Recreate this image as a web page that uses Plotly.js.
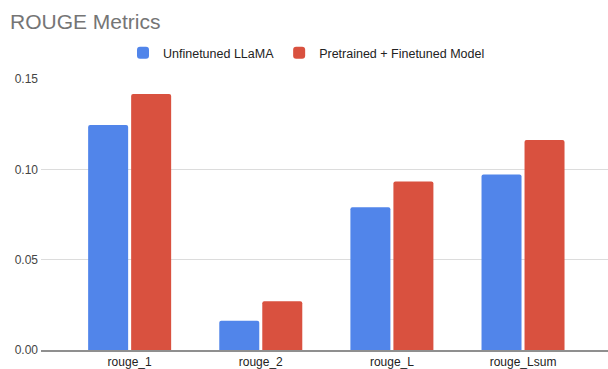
<!DOCTYPE html>
<html>
<head>
<meta charset="utf-8">
<script src="https://cdn.plot.ly/plotly-3.0.1.min.js"></script>
<style>
  html, body { margin: 0; padding: 0; background: #fff; }
  #chart { width: 608px; height: 369px; }
</style>
</head>
<body>
<div id="chart"></div>
<script>
// ROUGE scores per metric for the two models
const metrics = ["rouge_1", "rouge_2", "rouge_L", "rouge_Lsum"];
const unfinetunedLlama = [0.1245, 0.0162, 0.0790, 0.0972];
const pretrainedFinetuned = [0.1417, 0.0270, 0.0932, 0.1162];
const seriesNames = ["Unfinetuned LLaMA", "Pretrained + Finetuned Model"];
const yTicks = [0, 0.05, 0.10, 0.15];
const yTickLabels = ["0.00", "0.05", "0.10", "0.15"];

const FONT = "Liberation Sans, Arial, Helvetica, sans-serif";

const traces = [
  {
    type: "bar",
    name: seriesNames[0],
    x: metrics,
    y: unfinetunedLlama,
    marker: { color: "#5185EA" },
    hoverinfo: "x+y+name"
  },
  {
    type: "bar",
    name: seriesNames[1],
    x: metrics,
    y: pretrainedFinetuned,
    marker: { color: "#D9513F" },
    hoverinfo: "x+y+name"
  }
];

const layout = {
  width: 608,
  height: 369,
  margin: { l: 41, r: 0, t: 79, b: 19, pad: 0 },
  paper_bgcolor: "#ffffff",
  plot_bgcolor: "#ffffff",
  font: { family: FONT, size: 12, color: "#222222" },
  title: {
    text: "ROUGE Metrics",
    font: { family: FONT, size: 21, color: "#757575" },
    xref: "container",
    yref: "container",
    x: 10 / 608,
    xanchor: "left",
    y: 1 - 22 / 369,
    yanchor: "middle"
  },
  showlegend: true,
  legend: {
    orientation: "h",
    xref: "container",
    yref: "container",
    x: 123 / 608,
    xanchor: "left",
    y: 1 - 53 / 369,
    yanchor: "middle",
    font: { family: FONT, size: 12.5, color: "#222222" },
    bgcolor: "rgba(0,0,0,0)"
  },
  barmode: "group",
  bargap: 0.344,
  bargroupgap: 0.07,
  barcornerradius: 2,
  xaxis: {
    type: "category",
    range: [-0.676, 3.648],
    showgrid: false,
    zeroline: false,
    showline: true,
    linecolor: "#8f8f8f",
    linewidth: 1.5,
    ticks: "",
    tickfont: { family: FONT, size: 12, color: "#222222" },
    fixedrange: true
  },
  yaxis: {
    range: [0, 0.15],
    tickvals: yTicks,
    ticktext: yTickLabels,
    showgrid: true,
    gridcolor: "#dcdcdc",
    gridwidth: 1,
    zeroline: false,
    showline: false,
    ticks: "",
    ticklabelstandoff: 2,
    tickfont: { family: FONT, size: 12, color: "#444444" },
    fixedrange: true
  }
};

Plotly.newPlot("chart", traces, layout, { displayModeBar: false, staticPlot: true });
</script>
</body>
</html>
